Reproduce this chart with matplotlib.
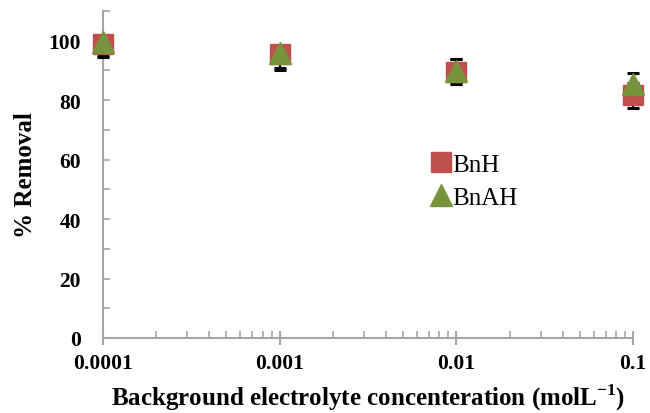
import matplotlib
matplotlib.use("Agg")
import matplotlib.pyplot as plt
from matplotlib.ticker import FixedLocator, LogLocator, NullFormatter, MultipleLocator

conc = [0.0001, 0.001, 0.01, 0.1]
xtick_labels = ["0.0001", "0.001", "0.01", "0.1"]
bnh = [98.8, 95.7, 89.5, 81.7]
bnh_err_low = [4.3, 5.5, 4.2, 4.4]
bnh_err_high = [1.0, 1.0, 4.2, 4.0]
bnah = [99.5, 95.9, 89.8, 85.3]
bnah_err_low = [4.3, 5.0, 4.1, 4.0]
bnah_err_high = [0.5, 1.0, 4.1, 4.0]

plt.rcParams['font.family'] = ['Liberation Serif', 'DejaVu Serif']

fig = plt.figure(figsize=(6.5, 4.14), dpi=100)
ax = fig.add_axes([103/650, (414-339)/414, (633-103)/650, (339-12)/414])

red = '#C0504D'
green = '#77933C'
axc = '#A6A6A6'

for vals, lo, hi in [(bnh, bnh_err_low, bnh_err_high), (bnah, bnah_err_low, bnah_err_high)]:
    eb = ax.errorbar(conc, vals, yerr=[lo, hi], fmt='none', ecolor='black',
                     elinewidth=1.5, capsize=4.3, capthick=2.2, zorder=1)
    for art in eb.lines[1] + eb.lines[2]:
        art.set_clip_on(False)
h1, = ax.plot(conc, bnh, linestyle='none', marker='s', markersize=15,
              markerfacecolor=red, markeredgecolor=red, label='BnH', zorder=3,
              clip_on=False)
h2, = ax.plot(conc, bnah, linestyle='none', marker='^', markersize=16,
              markerfacecolor=green, markeredgecolor=green, label='BnAH', zorder=4,
              clip_on=False)

ax.set_xscale('log')
ax.set_xlim(1e-4, 1e-1)
ax.set_ylim(0, 110)
ax.xaxis.set_major_locator(FixedLocator(conc))
ax.set_xticklabels(xtick_labels)
ax.xaxis.set_minor_locator(LogLocator(base=10, subs=range(2, 10), numticks=20))
ax.xaxis.set_minor_formatter(NullFormatter())
ax.yaxis.set_major_locator(FixedLocator([0, 20, 40, 60, 80, 100]))
ax.yaxis.set_minor_locator(MultipleLocator(10))

for s in ['top', 'right']:
    ax.spines[s].set_visible(False)
for s in ['left', 'bottom']:
    ax.spines[s].set_color(axc)
    ax.spines[s].set_linewidth(1.5)
    ax.spines[s].set_zorder(0.5)

ax.tick_params(axis='x', which='major', direction='inout', length=10, width=1.5, color=axc,
               labelsize=15.5, pad=6)
ax.tick_params(axis='x', which='minor', direction='in', length=5, width=1.2, color=axc)
ax.tick_params(axis='y', which='both', direction='in', length=5, width=1.2, color=axc,
               labelsize=15.5, pad=16)
for lab in ax.get_xticklabels() + ax.get_yticklabels():
    lab.set_fontweight('bold')

ax.set_xlabel('Background electrolyte concenteration (molL$^{\\mathregular{-1}}$)',
              fontsize=18, fontweight='bold', labelpad=6)
ax.set_ylabel('% Removal', fontsize=18, fontweight='bold')
ax.yaxis.set_label_coords(-0.125, 0.5)

ax.legend(handles=[h1, h2], loc='upper left', bbox_to_anchor=(0.6, 0.595), frameon=False,
          fontsize=18, handlelength=0.8, handletextpad=0.05, labelspacing=0.42,
          borderaxespad=0)

fig.savefig('out.png', dpi=100)
